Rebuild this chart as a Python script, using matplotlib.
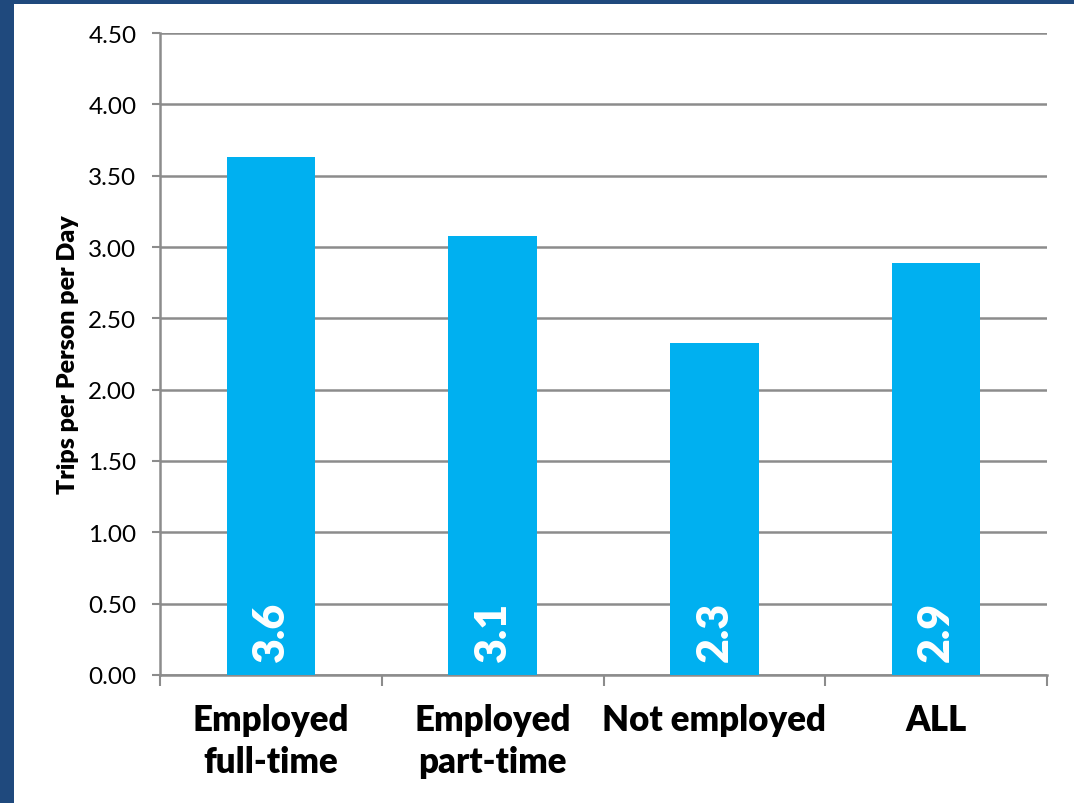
import matplotlib.pyplot as plt
from matplotlib.patches import Rectangle
from matplotlib.ticker import FixedLocator, FormatStrFormatter

plt.rcParams['font.family'] = ['Lato', 'DejaVu Sans']

# trips per person per day by employment status
categories = ["Employed\nfull-time", "Employed\npart-time", "Not employed", "ALL"]
trips = [3.63, 3.08, 2.33, 2.89]
yticks = [0.0, 0.5, 1.0, 1.5, 2.0, 2.5, 3.0, 3.5, 4.0, 4.5]

BAR_COLOR = "#00B0F0"
GRID_COLOR = "#8C8C8C"
FRAME_COLOR = "#1F497D"

fig = plt.figure(figsize=(10.74, 8.04), dpi=100)
fig.patch.set_facecolor(FRAME_COLOR)
# white panel inside the blue frame (left and top edges)
fig.patches.append(Rectangle((14 / 1074, 0), 1, 1 - 5 / 804,
                             transform=fig.transFigure, facecolor="white",
                             edgecolor="none", zorder=-1))

ax = fig.add_axes([160 / 1074, 128 / 804, 887 / 1074, 642 / 804])
ax.set_facecolor("white")

x = list(range(len(categories)))
bars = ax.bar(x, trips, width=0.4, color=BAR_COLOR, zorder=3)

for xi, v in zip(x, trips):
    ax.text(xi, 0.1, f"{v:.1f}", rotation=90, ha="center", va="bottom",
            color="white", fontsize=31, fontweight="heavy", zorder=4)

ax.set_xlim(-0.5, len(categories) - 0.5)
ax.set_ylim(0, 4.5)
ax.set_yticks(yticks)
ax.yaxis.set_major_formatter(FormatStrFormatter("%.2f"))
ax.grid(axis="y", color=GRID_COLOR, linewidth=1.8, zorder=1)

# boundary ticks between categories, labels at centres
ax.xaxis.set_major_locator(FixedLocator([i - 0.5 for i in range(len(categories) + 1)]))
ax.xaxis.set_minor_locator(FixedLocator(x))
ax.xaxis.set_major_formatter(plt.NullFormatter())
ax.set_xticklabels(categories, minor=True, fontsize=25, fontweight="heavy",
                   linespacing=1.35)
ax.tick_params(axis="x", which="major", length=8, width=1.5, color=GRID_COLOR)
ax.tick_params(axis="x", which="minor", length=0, pad=20)
ax.tick_params(axis="y", length=6, width=1.5, color=GRID_COLOR, labelsize=17.5, pad=11)

for side in ("top", "right"):
    ax.spines[side].set_visible(False)
for side in ("left", "bottom"):
    ax.spines[side].set_color(GRID_COLOR)
    ax.spines[side].set_linewidth(1.8)

ax.set_ylabel("Trips per Person per Day", fontsize=18, fontweight="heavy", labelpad=7)

fig.savefig("out.png", dpi=100, facecolor=fig.get_facecolor())
